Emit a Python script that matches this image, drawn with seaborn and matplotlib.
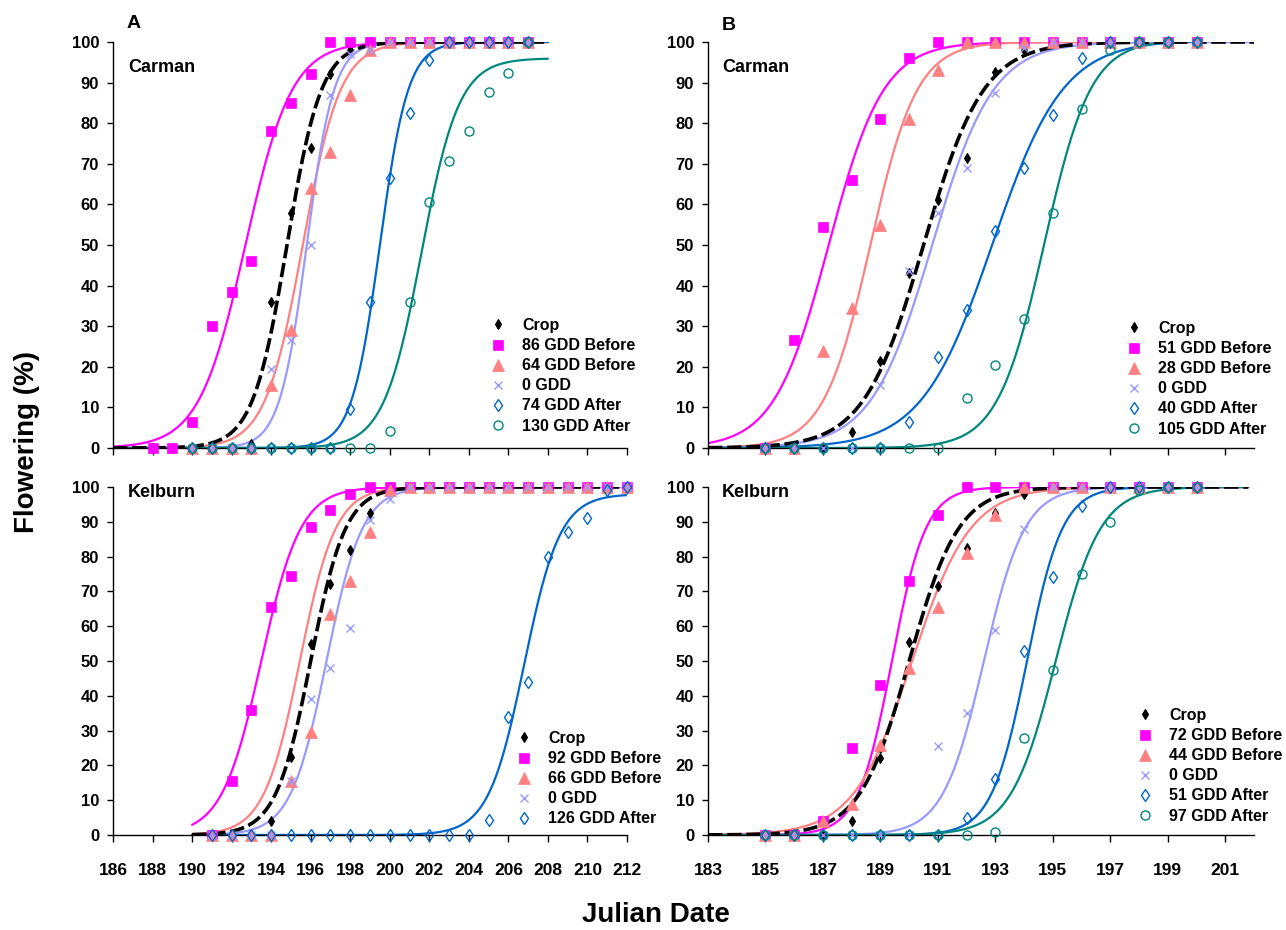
import numpy as np
import pandas as pd
import matplotlib
matplotlib.use("Agg")
import matplotlib.pyplot as plt
import seaborn as sns

nan = np.nan

# ---------------- data ----------------
# Panel A - Carman
A_CARMAN_DAYS = list(range(188, 208))
A_CARMAN_LABELS = ["Crop", "86 GDD Before", "64 GDD Before", "0 GDD", "74 GDD After", "130 GDD After"]
A_CARMAN_CROP = [0, 0, 0, 0, 0, 1, 36, 58, 74, 92, 98, 100, 100, 100, 100, 100, 100, 100, 100, 100]
A_CARMAN_B1 = [0, 0, 6.5, 30, 38.5, 46, 78, 85, 92, 100, 100, 100, 100, 100, 100, 100, 100, 100, 100, 100]
A_CARMAN_B2 = [nan, nan, 0, 0, 0, 0, 15.5, 29, 64, 73, 87, 98, 100, 100, 100, 100, 100, 100, 100, 100]
A_CARMAN_0 = [nan, nan, 0, 0, 0, 0, 19.5, 26.5, 50, 87, 97, 98, 100, 100, 100, 100, 100, 100, 100, 100]
A_CARMAN_A1 = [nan, nan, 0, 0, 0, 0, 0, 0, 0, 0, 9.5, 36, 66.5, 82.5, 95.5, 100, 100, 100, 100, 100]
A_CARMAN_A2 = [nan, nan, 0, 0, 0, 0, 0, 0, 0, 0, 0, 0, 4.3, 36, 60.7, 70.8, 78.2, 87.6, 92.4, 100]
A_CARMAN_X50 = [194.8, 192.7, 195.6, 195.8, 199.5, 201.6]
A_CARMAN_RATE = [1.15, 0.85, 1.05, 1.45, 1.4, 1.05]
A_CARMAN_ASYM = [100, 100, 100, 100, 100, 96]
A_CARMAN_FIT = (186, 208)

# Panel A - Kelburn
A_KELBURN_DAYS = list(range(191, 213))
A_KELBURN_LABELS = ["Crop", "92 GDD Before", "66 GDD Before", "0 GDD", "126 GDD After"]
A_KELBURN_CROP = [0, 0, 0, 4, 22.5, 55, 72, 82, 92.5, 99] + [100] * 12
A_KELBURN_B1 = [0, 15.5, 36, 65.5, 74.5, 88.5, 93.5, 98] + [100] * 14
A_KELBURN_B2 = [0, 0, 0, 0, 15.5, 29.5, 63.5, 73, 87, 99] + [100] * 12
A_KELBURN_0 = [0, 0, 0, 0, 15.5, 39, 48, 59.5, 90.5, 96.5] + [100] * 12
A_KELBURN_A1 = [0] * 14 + [4.2, 34, 44, 80, 87, 91, 99, 100]
A_KELBURN_X50 = [196.0, 193.5, 195.45, 196.8, 206.8]
A_KELBURN_RATE = [1.13, 1.0, 1.1, 1.1, 1.1]
A_KELBURN_ASYM = [100, 100, 100, 100, 98]
A_KELBURN_FIT = (190, 212)

# Panel B - Carman
B_CARMAN_DAYS = list(range(185, 201))
B_CARMAN_LABELS = ["Crop", "51 GDD Before", "28 GDD Before", "0 GDD", "40 GDD After", "105 GDD After"]
B_CARMAN_CROP = [0, 0, 0, 4, 21.5, 43, 61, 71.5, 92.5, 98] + [100] * 6
B_CARMAN_B1 = [0, 26.5, 54.5, 66, 81, 96, 100] + [100] * 9
B_CARMAN_B2 = [0, 0, 24, 34.5, 55, 81, 93, 100] + [100] * 8
B_CARMAN_0 = [0, 0, 0, 0, 15.5, 43.5, 58, 69, 87.5, 98.5] + [100] * 6
B_CARMAN_A1 = [0, 0, 0, 0, 0, 6.5, 22.5, 34, 53.5, 69, 82, 96] + [100] * 4
B_CARMAN_A2 = [0] * 7 + [12.3, 20.5, 31.7, 58, 83.5, 98] + [100] * 3
B_CARMAN_X50 = [190.5, 187.2, 188.65, 190.8, 192.9, 194.7]
B_CARMAN_RATE = [0.96, 1.05, 1.23, 0.94, 0.81, 1.23]
B_CARMAN_ASYM = [100, 100, 100, 100, 100.5, 100.5]
B_CARMAN_FIT = (183, 202)

# Panel B - Kelburn
B_KELBURN_DAYS = list(range(185, 201))
B_KELBURN_LABELS = ["Crop", "72 GDD Before", "44 GDD Before", "0 GDD", "51 GDD After", "97 GDD After"]
B_KELBURN_CROP = [0, 0, 0, 4, 22, 55.5, 71.5, 82.5, 92.5, 98] + [100] * 6
B_KELBURN_B1 = [0, 0, 4, 25, 43, 73, 92, 100] + [100] * 8
B_KELBURN_B2 = [0, 0, 4, 9, 26, 48, 65.5, 81, 92, 100] + [100] * 6
B_KELBURN_0 = [0] * 6 + [25.5, 35, 59, 88, 100] + [100] * 5
B_KELBURN_A1 = [0] * 7 + [5, 16, 53, 74, 94.5, 100] + [100] * 3
B_KELBURN_A2 = [0] * 8 + [1, 28, 47.5, 75, 90, 99, 100, 100]
B_KELBURN_X50 = [190.0, 189.4, 190.1, 192.6, 194.1, 195.1]
B_KELBURN_RATE = [1.16, 1.69, 0.98, 1.4, 1.62, 1.28]
B_KELBURN_ASYM = [100, 100, 100, 100, 100, 100]
B_KELBURN_FIT = (183, 201.8)

A_XTICKS = list(range(186, 213, 2))
B_XTICKS = list(range(183, 202, 2))
Y_TICKS = list(range(0, 101, 10))

# ---------------- styles ----------------
STYLES = [
    dict(color="black", marker="d", ms=5.2, mfc="black", mew=0.8),
    dict(color="#FF00FF", marker="s", ms=7, mfc="#FF00FF", mew=0.5),
    dict(color="#FF8080", marker="^", ms=8, mfc="#FF8080", mew=0.5),
    dict(color="#9999FF", marker="x", ms=6, mfc="none", mew=1.0),
    dict(color="#0066CC", marker="d", ms=6.3, mfc="none", mew=1.0),
    dict(color="#00877E", marker="o", ms=6.5, mfc="none", mew=1.0),
]

sns.set_theme(style="ticks")
plt.rcParams["font.family"] = ["Liberation Sans", "DejaVu Sans"]
plt.rcParams["font.weight"] = "bold"
plt.rcParams["axes.linewidth"] = 1.0
plt.rcParams["text.color"] = "black"
plt.rcParams["xtick.color"] = "black"
plt.rcParams["ytick.color"] = "black"
plt.rcParams["xtick.labelcolor"] = "black"
plt.rcParams["ytick.labelcolor"] = "black"

W, H = 1286, 930
fig = plt.figure(figsize=(W / 100, H / 100), dpi=100)


def px_axes(left, right, top, bottom):
    return fig.add_axes([left / W, 1 - bottom / H, (right - left) / W, (bottom - top) / H])


axA1 = px_axes(113, 627, 42, 448)
axA2 = px_axes(113, 627, 487, 835)
axB1 = px_axes(708, 1254, 42, 448)
axB2 = px_axes(708, 1254, 487, 835)

panels = [
    dict(ax=axA1, days=A_CARMAN_DAYS, labels=A_CARMAN_LABELS,
         values=[A_CARMAN_CROP, A_CARMAN_B1, A_CARMAN_B2, A_CARMAN_0, A_CARMAN_A1, A_CARMAN_A2],
         x50=A_CARMAN_X50, rate=A_CARMAN_RATE, asym=A_CARMAN_ASYM, fit=A_CARMAN_FIT,
         xlim=(186, 212), xticks=A_XTICKS, labelbottom=False, leg=(490, 318)),
    dict(ax=axA2, days=A_KELBURN_DAYS, labels=A_KELBURN_LABELS,
         values=[A_KELBURN_CROP, A_KELBURN_B1, A_KELBURN_B2, A_KELBURN_0, A_KELBURN_A1],
         x50=A_KELBURN_X50, rate=A_KELBURN_RATE, asym=A_KELBURN_ASYM, fit=A_KELBURN_FIT,
         xlim=(186, 212), xticks=A_XTICKS, labelbottom=True, leg=(516, 731)),
    dict(ax=axB1, days=B_CARMAN_DAYS, labels=B_CARMAN_LABELS,
         values=[B_CARMAN_CROP, B_CARMAN_B1, B_CARMAN_B2, B_CARMAN_0, B_CARMAN_A1, B_CARMAN_A2],
         x50=B_CARMAN_X50, rate=B_CARMAN_RATE, asym=B_CARMAN_ASYM, fit=B_CARMAN_FIT,
         xlim=(183, 202), xticks=B_XTICKS, labelbottom=False, leg=(1126, 321)),
    dict(ax=axB2, days=B_KELBURN_DAYS, labels=B_KELBURN_LABELS,
         values=[B_KELBURN_CROP, B_KELBURN_B1, B_KELBURN_B2, B_KELBURN_0, B_KELBURN_A1, B_KELBURN_A2],
         x50=B_KELBURN_X50, rate=B_KELBURN_RATE, asym=B_KELBURN_ASYM, fit=B_KELBURN_FIT,
         xlim=(183, 202), xticks=B_XTICKS, labelbottom=True, leg=(1137, 708)),
]

for p in panels:
    ax = p["ax"]
    n = len(p["values"])
    # fitted curves (colored first, crop dashed black on top)
    order = list(range(1, n)) + [0]
    for i in order:
        st = STYLES[i]
        xs = np.linspace(p["fit"][0], p["fit"][1], 400)
        ys = p["asym"][i] / (1 + np.exp(-p["rate"][i] * (xs - p["x50"][i])))
        cdf = pd.DataFrame({"day": xs, "pct": ys})
        if i == 0:
            sns.lineplot(data=cdf, x="day", y="pct", ax=ax, color="black", lw=2.6,
                         estimator=None, sort=False, zorder=2.5)
            ax.lines[-1].set_dashes([4.0, 1.3])
        else:
            sns.lineplot(data=cdf, x="day", y="pct", ax=ax, color=st["color"], lw=1.6,
                         estimator=None, sort=False, zorder=2)
    # observed points
    handles = []
    for i in range(n):
        st = STYLES[i]
        df = pd.DataFrame({"day": p["days"], "pct": p["values"][i]}).dropna()
        sns.lineplot(data=df, x="day", y="pct", ax=ax, estimator=None, sort=False,
                     linestyle="none", marker=st["marker"], markersize=st["ms"],
                     color=st["color"], markerfacecolor=st["mfc"],
                     markeredgecolor=st["color"], markeredgewidth=st["mew"],
                     clip_on=False, zorder=3, label=p["labels"][i])
        handles.append(ax.lines[-1])
    ax.set_xlim(*p["xlim"])
    ax.set_ylim(0, 100)
    ax.set_xticks(p["xticks"])
    ax.set_yticks(Y_TICKS)
    ax.set_xlabel("")
    ax.set_ylabel("")
    sns.despine(ax=ax)
    for s in ("left", "bottom"):
        ax.spines[s].set_color("black")
        ax.spines[s].set_linewidth(1.0)
    ax.tick_params(axis="x", length=5, width=1, pad=15, labelsize=12.5, color="black",
                   labelcolor="black", labelbottom=p["labelbottom"])
    ax.tick_params(axis="y", length=4, width=1, pad=6, labelsize=12, color="black",
                   labelcolor="black")
    lx, ly = p["leg"]
    ax.legend(handles=handles, labels=p["labels"], loc="upper left",
              bbox_to_anchor=(lx / W, 1 - ly / H), bbox_transform=fig.transFigure,
              frameon=False, borderpad=0, borderaxespad=0, handlelength=1.0,
              handletextpad=1.0, labelspacing=0.32,
              prop=dict(size=11.5, weight="bold"))

# panel letters and site names
fig.text(127 / W, 1 - 24 / H, "A", fontsize=14, weight="bold", ha="left", va="center")
fig.text(722 / W, 1 - 25 / H, "B", fontsize=14, weight="bold", ha="left", va="center")
for x in (128, 722):
    fig.text(x / W, 1 - 67 / H, "Carman", fontsize=13, weight="bold", ha="left", va="center")
    fig.text(x / W, 1 - 492 / H, "Kelburn", fontsize=13, weight="bold", ha="left", va="center")

fig.text(656 / W, 1 - 915 / H, "Julian Date", fontsize=20, weight="bold", ha="center", va="center")
fig.text(27 / W, 1 - 442 / H, "Flowering (%)", fontsize=20, weight="bold", ha="center",
         va="center", rotation=90)

fig.savefig("out.png", dpi=100)
